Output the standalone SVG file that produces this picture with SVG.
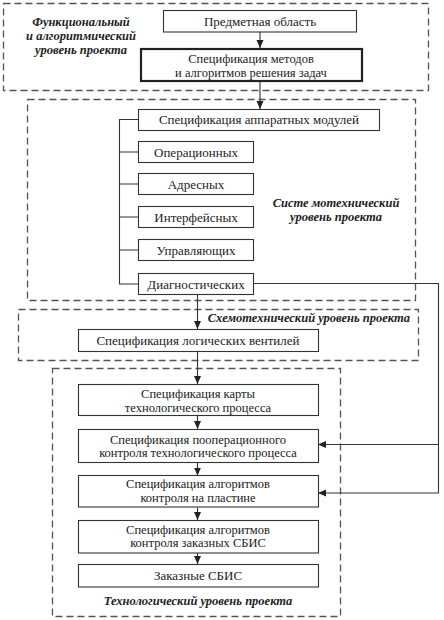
<svg xmlns="http://www.w3.org/2000/svg" width="444" height="620" viewBox="0 0 444 620">
<defs>
<marker id="ah" viewBox="0 0 8 8" refX="8" refY="4" markerWidth="8" markerHeight="8" markerUnits="userSpaceOnUse" orient="auto">
<path d="M0,0.5 L8,4 L0,7.5 Z" fill="#222"/>
</marker>
</defs>
<style>
.zone{fill:none;stroke:#555;stroke-width:1.3;stroke-dasharray:7 4}
.box{fill:#fff;stroke:#333;stroke-width:1.1}
.thick{fill:#fff;stroke:#222;stroke-width:2.2}
.t{font-family:"Liberation Serif","DejaVu Serif","Times New Roman",serif;font-size:13px;fill:#222;text-anchor:middle}
.t2{font-family:"Liberation Serif","DejaVu Serif","Times New Roman",serif;font-size:12.5px;fill:#222;text-anchor:middle}
.lbl{font-family:"Liberation Serif","DejaVu Serif","Times New Roman",serif;font-size:12.5px;font-weight:bold;font-style:italic;fill:#222}
.c{fill:none;stroke:#333;stroke-width:1.1}
</style>
<rect width="444" height="620" fill="#fff"/>
<g id="zone-functional">
<rect class="zone" x="3.5" y="3.5" width="425" height="87"/>
<text class="lbl" text-anchor="middle" x="81" y="26">Функциональный</text>
<text class="lbl" text-anchor="middle" x="81" y="40">и алгоритмический</text>
<text class="lbl" text-anchor="middle" x="81" y="54">уровень проекта</text>
</g>
<g id="zone-system">
<rect class="zone" x="27.5" y="99.5" width="388" height="201"/>
<text class="lbl" text-anchor="middle" x="336" y="207">Систе мотехнический</text>
<text class="lbl" text-anchor="middle" x="336" y="221">уровень проекта</text>
</g>
<g id="zone-circuit">
<rect class="zone" x="18.5" y="309.5" width="400" height="51"/>
<text class="lbl" text-anchor="end" x="410" y="322">Схемотехнический уровень проекта</text>
</g>
<g id="zone-tech">
<rect class="zone" x="52.5" y="368.5" width="288" height="248"/>
<text class="lbl" text-anchor="middle" x="198" y="605">Технологический уровень проекта</text>
</g>
<g id="connectors">
<line class="c" x1="260" y1="32" x2="260" y2="48" marker-end="url(#ah)"/>
<line class="c" x1="260" y1="82" x2="260" y2="109" marker-end="url(#ah)"/>
<path class="c" d="M138,119.5 H119.5 V284 H138 M119.5,152 H138 M119.5,184 H138 M119.5,217 H138 M119.5,250 H138"/>
<line class="c" x1="197.5" y1="295" x2="197.5" y2="329" marker-end="url(#ah)"/>
<path class="c" d="M253,283.5 H438.5 V493 H318" marker-end="url(#ah)"/>
<line class="c" x1="438.5" y1="444.5" x2="318" y2="444.5" marker-end="url(#ah)"/>
<line class="c" x1="197.5" y1="352" x2="197.5" y2="384" marker-end="url(#ah)"/>
<line class="c" x1="197.5" y1="416" x2="197.5" y2="429" marker-end="url(#ah)"/>
<line class="c" x1="197.5" y1="463" x2="197.5" y2="475.5" marker-end="url(#ah)"/>
<line class="c" x1="197.5" y1="507.5" x2="197.5" y2="520" marker-end="url(#ah)"/>
<line class="c" x1="197.5" y1="553" x2="197.5" y2="564" marker-end="url(#ah)"/>
</g>
<g id="n-domain">
<rect class="box" x="163.5" y="10.5" width="193" height="21.5"/>
<text class="t" x="260" y="25.5">Предметная область</text>
</g>
<g id="n-methods">
<rect class="thick" x="141" y="49" width="221" height="32"/>
<text class="t2" x="251" y="63">Спецификация методов</text>
<text class="t2" x="251" y="76.5">и алгоритмов решения задач</text>
</g>
<g id="n-hw">
<rect class="box" x="138.5" y="109.5" width="241" height="21"/>
<text class="t" x="259" y="124">Спецификация аппаратных модулей</text>
</g>
<g id="n-oper">
<rect class="box" x="138.5" y="141.5" width="115" height="21"/>
<text class="t" x="196" y="156.5">Операционных</text>
</g>
<g id="n-addr">
<rect class="box" x="138.5" y="173.5" width="115" height="21"/>
<text class="t" x="196" y="188.5">Адресных</text>
</g>
<g id="n-iface">
<rect class="box" x="138.5" y="206.5" width="115" height="21"/>
<text class="t" x="196" y="221.5">Интерфейсных</text>
</g>
<g id="n-ctrl">
<rect class="box" x="138.5" y="239.5" width="115" height="21"/>
<text class="t" x="196" y="254.5">Управляющих</text>
</g>
<g id="n-diag">
<rect class="box" x="138.5" y="273.5" width="115" height="21"/>
<text class="t" x="196" y="288.5">Диагностических</text>
</g>
<g id="n-gates">
<rect class="box" x="78.5" y="329.5" width="240" height="22"/>
<text class="t" x="198" y="345">Спецификация логических вентилей</text>
</g>
<g id="n-map">
<rect class="box" x="78.5" y="384.5" width="240" height="31"/>
<text class="t2" x="198" y="398">Спецификация карты</text>
<text class="t2" x="198" y="411.5">технологического процесса</text>
</g>
<g id="n-opctrl">
<rect class="box" x="78.5" y="429.5" width="240" height="33"/>
<text class="t2" x="198" y="443.5">Спецификация пооперационного</text>
<text class="t2" x="198" y="457">контроля технологического процесса</text>
</g>
<g id="n-plate">
<rect class="box" x="78.5" y="475.5" width="240" height="31.5"/>
<text class="t2" x="198" y="488">Спецификация алгоритмов</text>
<text class="t2" x="198" y="501.5">контроля на пластине</text>
</g>
<g id="n-vlsictrl">
<rect class="box" x="78.5" y="520.5" width="240" height="32.5"/>
<text class="t2" x="198" y="533.5">Спецификация алгоритмов</text>
<text class="t2" x="198" y="547">контроля заказных СБИС</text>
</g>
<g id="n-vlsi">
<rect class="box" x="78.5" y="564.5" width="240" height="22.5"/>
<text class="t" x="198" y="580">Заказные СБИС</text>
</g>
</svg>
